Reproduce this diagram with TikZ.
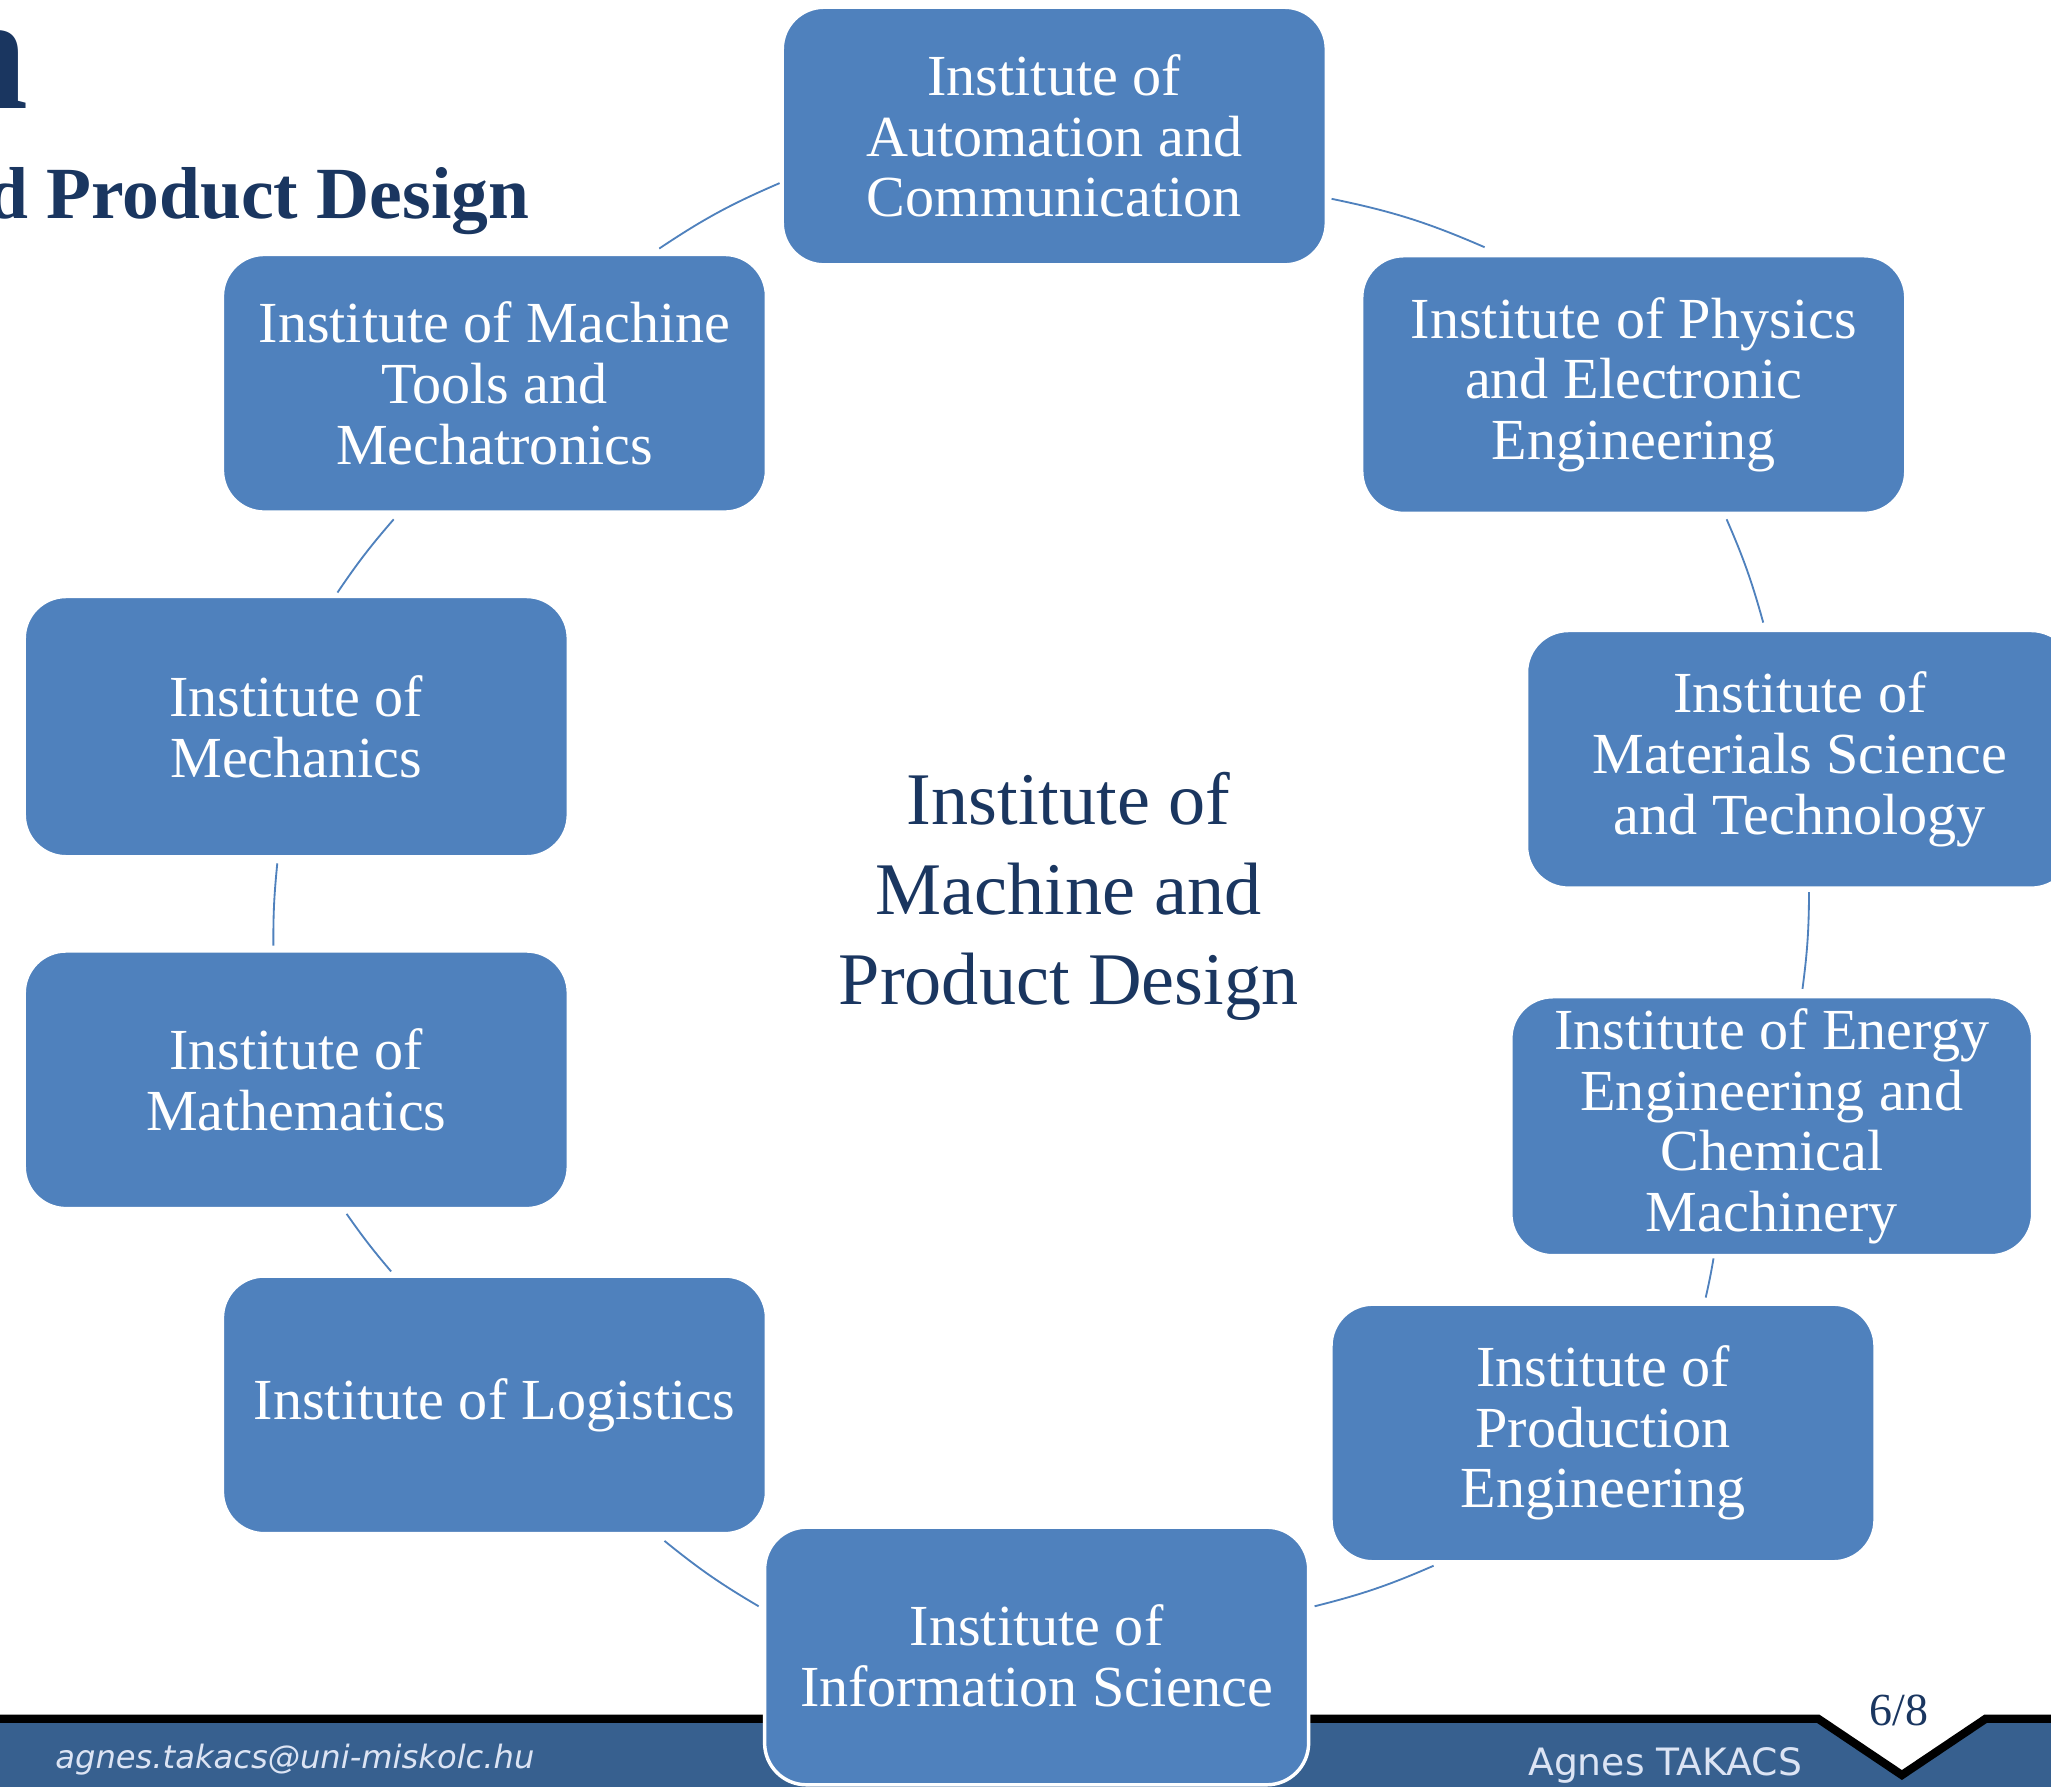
\documentclass[tikz,border=0pt]{standalone}
\usepackage{fontspec}
\setmainfont{Liberation Serif}
\newfontfamily\footfont[ItalicFont={DejaVu Sans Oblique}]{DejaVu Sans}
\definecolor{boxblue}{HTML}{4F81BD}
\definecolor{titlenavy}{HTML}{1A3660}
\definecolor{footblue}{HTML}{37608F}
\definecolor{foottext}{HTML}{DCE4F4}
\begin{document}
\begin{tikzpicture}[x=0.02cm,y=-0.02cm,
  inst/.style={rectangle, rounded corners=0.64cm, fill=boxblue, draw=white,
    line width=1.5pt, minimum width=8.32cm, minimum height=3.94cm, text=white,
    align=center, inner sep=0pt, font=\fontsize{25.3}{26.4}\selectfont},
  conn/.style={draw=boxblue, line width=0.8pt},
  foot/.style={inner sep=0pt, text=foottext}]
\useasboundingbox (0,0) rectangle (1568,1366);

% footer bar
\fill[footblue] (-10,1314) -- (1390,1314) -- (1454,1357) -- (1518,1314) -- (1580,1314)
  -- (1580,1380) -- (-10,1380) -- cycle;
\draw[black, line width=3.6pt] (-10,1314) -- (1390,1314) -- (1454,1357) -- (1518,1314) -- (1580,1314);
\node[foot, anchor=base west, font=\footfont\itshape\fontsize{14}{14}\selectfont] (mail) at (42,1352) {agnes.takacs@uni-miskolc.hu};
\node[foot, anchor=base west, font=\footfont\fontsize{16.4}{17}\selectfont] (author) at (1168,1357) {Agnes TAKACS};
\node[inner sep=0pt, anchor=base, text=titlenavy, font=\fontsize{20}{20}\selectfont] (page) at (1452,1319) {6/8};

% title fragments
\node[inner sep=0pt, anchor=base east, text=titlenavy, font=\bfseries\fontsize{72}{72}\selectfont] (titleA) at (22,83) {n};
\node[inner sep=0pt, anchor=base east, text=titlenavy, font=\bfseries\fontsize{32}{32}\selectfont] (titleB) at (405,167) {d Product Design};

% centre
\node[inner sep=0pt, align=center, text=titlenavy, font=\fontsize{32.3}{39.1}\selectfont] (centre) at (817,685) {Institute of\\Machine and\\Product Design};

% boxes
\node[inst] (auto) at (806,104) {Institute of\\Automation and\\Communication};
\node[inst] (phys) at (1249,294) {Institute of Physics\\and Electronic\\Engineering};
\node[inst, minimum width=8.36cm] (mat) at (1376,580.5) {Institute of\\Materials Science\\and Technology};
\node[inst, minimum width=7.98cm, minimum height=3.96cm] (energy) at (1354.5,861) {Institute of Energy\\Engineering and\\Chemical\\Machinery};
\node[inst] (prod) at (1225.5,1095.5) {Institute of\\Production\\Engineering};
\node[inst] (info) at (792.5,1266) {Institute of\\Information Science};
\node[inst] (logi) at (378,1074) {Institute of Logistics};
\node[inst] (math) at (226.5,825.5) {Institute of\\Mathematics};
\node[inst, minimum height=3.98cm] (mech) at (226.5,555.5) {Institute of\\Mechanics};
\node[inst] (tools) at (378,293) {Institute of Machine\\Tools and\\Mechatronics};

% connector ends
\coordinate (c1a) at (1018,152);  \coordinate (c1b) at (1135,189);
\coordinate (c2a) at (1320,397);  \coordinate (c2b) at (1348,476);
\coordinate (c3a) at (1383,682);  \coordinate (c3b) at (1378,756);
\coordinate (c4a) at (1310,962);  \coordinate (c4b) at (1304,992);
\coordinate (c5a) at (1096,1197); \coordinate (c5b) at (1005,1228);
\coordinate (c6a) at (580,1228);  \coordinate (c6b) at (508,1178);
\coordinate (c7a) at (299,972);   \coordinate (c7b) at (265,928);
\coordinate (c8a) at (209,723);   \coordinate (c8b) at (212,660);
\coordinate (c9a) at (258,453);   \coordinate (c9b) at (301,397);
\coordinate (c10a) at (504,190);  \coordinate (c10b) at (596,140);

\draw[conn] (c1a) to[bend left=5.9] (c1b);
\draw[conn] (c2a) to[bend left=4] (c2b);
\draw[conn] (c3a) to[bend left=3.6] (c3b);
\draw[conn] (c4a) to[bend left=1.5] (c4b);
\draw[conn] (c5a) to[bend left=4.7] (c5b);
\draw[conn] (c6a) to[bend left=4.3] (c6b);
\draw[conn] (c7a) to[bend left=2.7] (c7b);
\draw[conn] (c8a) to[bend left=3] (c8b);
\draw[conn] (c9a) to[bend left=3.4] (c9b);
\draw[conn] (c10a) to[bend left=5.2] (c10b);
\end{tikzpicture}
\end{document}
